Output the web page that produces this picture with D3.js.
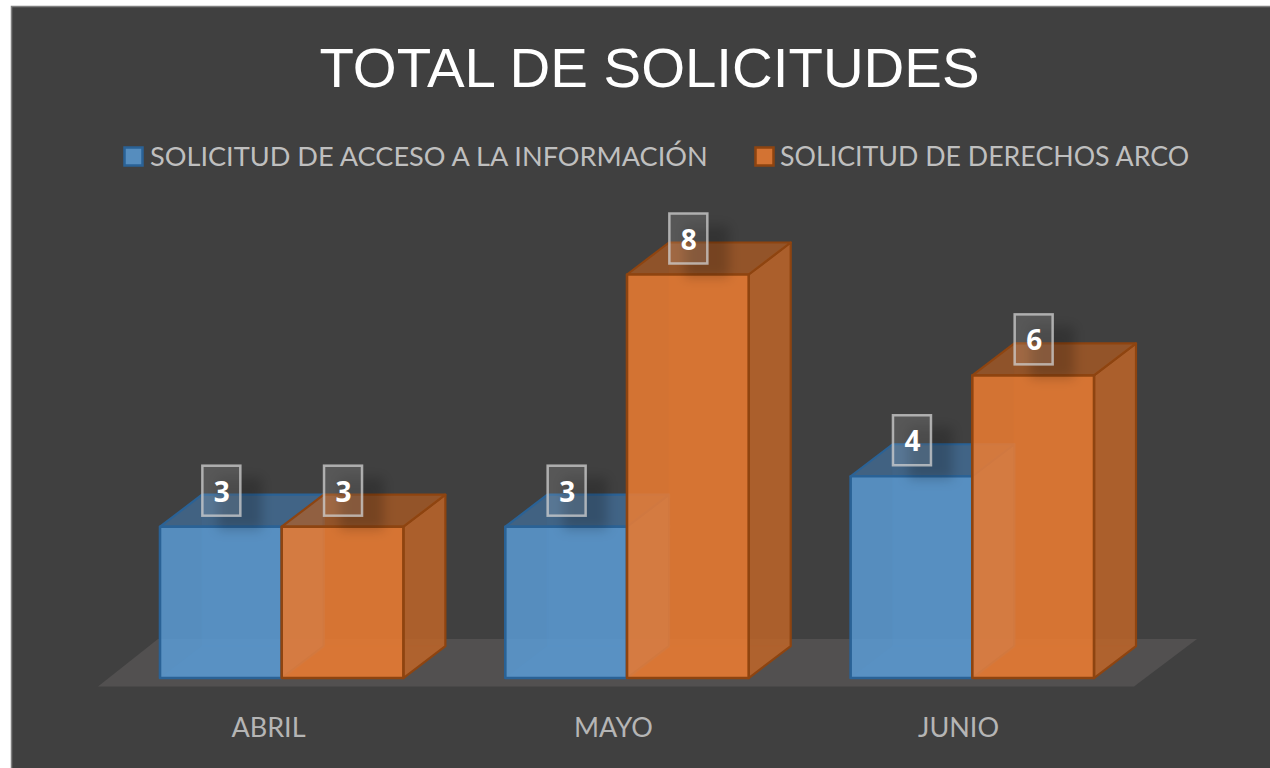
<!DOCTYPE html>
<html><head><meta charset="utf-8">
<script src="https://cdn.jsdelivr.net/npm/d3@7/dist/d3.min.js"></script>
<style>html,body{margin:0;padding:0;background:#fff;overflow:hidden}svg{display:block}</style>
</head><body><svg id="c" width="1270" height="768"></svg>
<script>
const categories = ["ABRIL","MAYO","JUNIO"];
const seriesNames = ["SOLICITUD DE ACCESO A LA INFORMACIÓN","SOLICITUD DE DERECHOS ARCO"];
const accesoValues = [3,3,4];
const arcoValues = [3,8,6];
const titleText = "TOTAL DE SOLICITUDES";
const fills = ["#5B9BD5","#ED7D31"];
const strokes = ["#2A6296","#8E4410"];

const svg = d3.select("#c");
const defs = svg.append("defs");
defs.append("filter").attr("id","blur").attr("x","-100%").attr("y","-100%").attr("width","300%").attr("height","300%")
  .append("feGaussianBlur").attr("stdDeviation",6);

svg.append("rect").attr("x",11.5).attr("y",6.5).attr("width",1270).attr("height",770)
  .attr("fill","#404040").attr("stroke","#7f7f7f").attr("stroke-width",1.5);

const depthX = 42, depthY = 32;
const baseY = 678;
const x0 = d3.scaleBand().domain(categories).range([160,1094]).paddingInner(0.2952).paddingOuter(0);
const x1 = d3.scaleBand().domain([0,1]).range([0,x0.bandwidth()]);
const y = d3.scaleLinear().domain([0,8]).range([baseY,274.5]);
const line = d3.line();

// floor
svg.append("path").attr("d",line([[98,686.5],[158,639],[1197,639],[1134,686.5]])+"Z").attr("fill","#525050");

// title
svg.append("text").attr("x",649.5).attr("y",86.5).attr("text-anchor","middle")
  .attr("font-family","'Liberation Sans'").attr("font-size",56.4).attr("fill","#fff").text(titleText);

// legend
const legendX = [124.5,755.5], legendTextX = [150,780], legendSizes = [27.15,26.75];
seriesNames.forEach((s,i)=>{
  svg.append("rect").attr("x",legendX[i]).attr("y",147.5).attr("width",18).attr("height",18)
    .attr("fill",fills[i]).attr("fill-opacity",.85).attr("stroke",strokes[i]).attr("stroke-width",2.5);
  svg.append("text").attr("x",legendTextX[i]).attr("y",166).attr("font-family","Lato")
    .attr("font-size",legendSizes[i]).attr("fill","#bfbfbf").text(s);
});

// bars
const rows = [accesoValues,arcoValues];
const marks = [];
rows.forEach((vals,s)=>vals.forEach((v,c)=>marks.push({s,c,v})));
marks.sort((a,b)=>a.c-b.c||a.s-b.s);
const barW = x1.bandwidth();
const labels = [];
marks.forEach(m=>{
  const X = x0(categories[m.c])+x1(m.s), T = y(m.v), B = y(0);
  const g = svg.append("g").attr("stroke",strokes[m.s]).attr("stroke-linejoin","round");
  const face = (pts,fill,op,sw,so)=>g.append("path").attr("d",line(pts)+"Z").attr("fill",fill)
    .attr("fill-opacity",op).attr("stroke-width",sw).attr("stroke-opacity",so);
  // back, floor
  face([[X+depthX,T-depthY],[X+barW+depthX,T-depthY],[X+barW+depthX,B-depthY],[X+depthX,B-depthY]],fills[m.s],.1,1.5,.08);
  face([[X,B],[X+barW,B],[X+barW+depthX,B-depthY],[X+depthX,B-depthY]],fills[m.s],.12,1.5,.08);
  // right side
  face([[X+barW,T],[X+barW+depthX,T-depthY],[X+barW+depthX,B-depthY],[X+barW,B]],d3.color(fills[m.s]).darker(.6),.82,2.2,1);
  // top
  face([[X,T],[X+barW,T],[X+barW+depthX,T-depthY],[X+depthX,T-depthY]],d3.color(fills[m.s]).darker(.95),.75,2.2,1);
  // front
  face([[X,T],[X+barW,T],[X+barW,B],[X,B]],fills[m.s],.85,2.6,1);
  labels.push({X,T,v:m.v});
});

labels.forEach(l=>{
  svg.append("rect").attr("x",l.X+58).attr("y",l.T-49).attr("width",44).attr("height",52)
     .attr("fill","#000").attr("fill-opacity",.2).attr("filter","url(#blur)");
});
labels.forEach(l=>{
  const cx = l.X+barW/2+0.5, cy = l.T-36;
  svg.append("rect").attr("x",cx-19).attr("y",cy-25).attr("width",38).attr("height",50)
    .attr("fill","#fff").attr("fill-opacity",.12).attr("stroke","#d0d0d0").attr("stroke-opacity",.75).attr("stroke-width",2.5);
  svg.append("text").attr("x",cx+0.5).attr("y",cy+11).attr("text-anchor","middle")
    .attr("font-family","'Open Sans'").attr("font-weight",700).attr("font-size",28).attr("fill","#fff").text(l.v);
});

// category axis
const axisScale = d3.scalePoint().domain(categories).range([268,958]);
const ax = svg.append("g").attr("transform","translate(0,728)").call(d3.axisBottom(axisScale).tickSize(0));
ax.select(".domain").remove();
ax.selectAll("text").attr("y",0).attr("dy","0.35em").attr("font-family","Lato").attr("font-size",27).attr("fill","#b5b5b5");
</script></body></html>
